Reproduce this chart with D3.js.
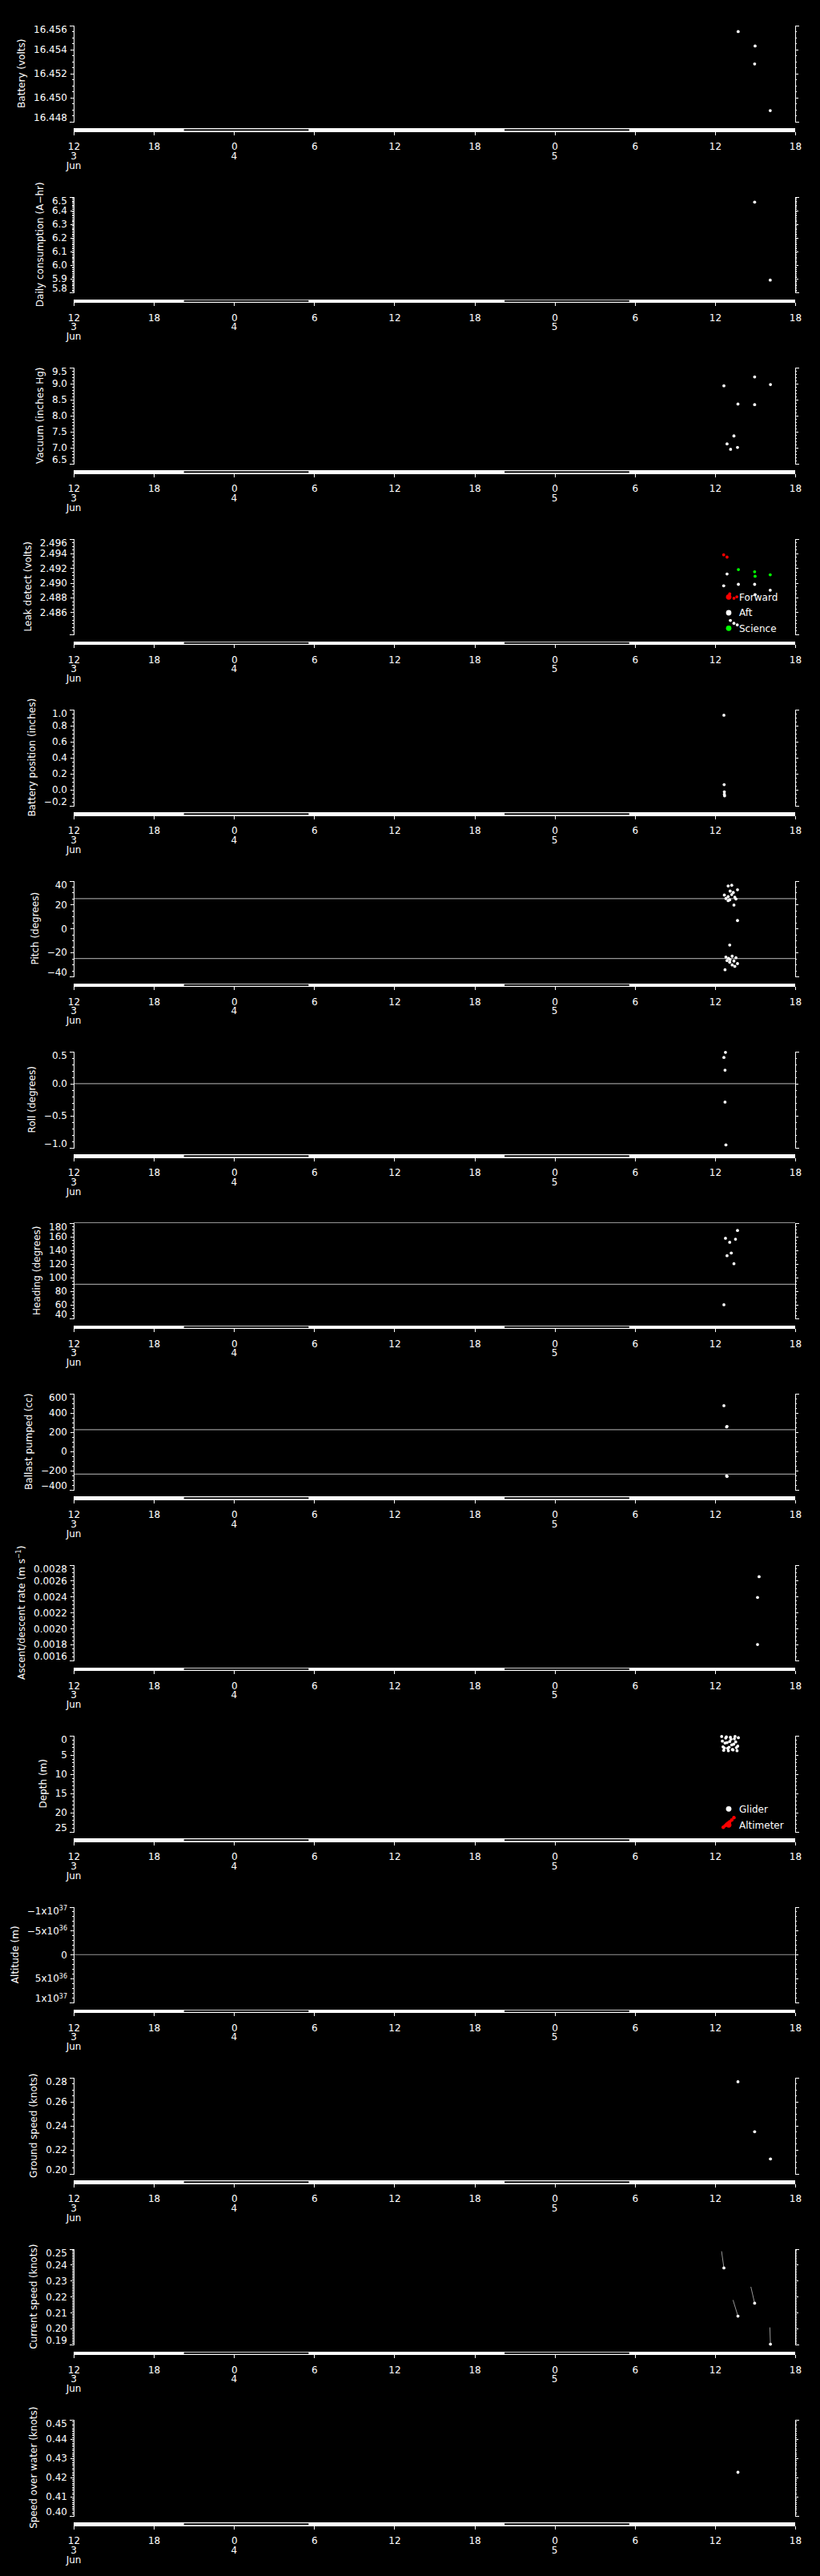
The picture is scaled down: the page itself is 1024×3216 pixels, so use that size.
<!DOCTYPE html>
<html><head><meta charset="utf-8">
<script src="https://cdn.jsdelivr.net/npm/d3@7"></script>
<style>
html,body{margin:0;padding:0;background:#000;}
svg{display:block;background:#000;}
text{font-family:"DejaVu Sans",sans-serif;fill:#fff;}
</style></head><body>
<svg id="c" width="1024" height="3216"></svg>
<script>
// ================= DATA =================
const timeDomain = ["06-03 12:00", "06-05 18:00"];
const nightStart = ["06-03 20:15", "06-04 20:15"];
const nightEnd   = ["06-04 05:35", "06-05 05:35"];

const batteryTimes = ["06-05 13:44","06-05 15:00","06-05 14:58","06-05 16:08"];
const batteryVolts = [16.4555,16.4543,16.4528,16.4489];
const batteryTicks = [16.448,16.450,16.452,16.454,16.456];

const consumptionTimes = ["06-05 14:58","06-05 16:08"];
const consumptionAh = [6.46,5.89];
const consumptionTicks = [5.8,5.9,6.0,6.1,6.2,6.3,6.4,6.5];

const vacuumTimes = ["06-05 12:40","06-05 13:43","06-05 14:58","06-05 14:58","06-05 16:09","06-05 13:25","06-05 12:54","06-05 13:10","06-05 13:41"];
const vacuumInHg = [8.93,8.36,9.21,8.34,8.97,7.36,7.11,6.94,7.00];
const vacuumTicks = [6.5,7.0,7.5,8.0,8.5,9.0,9.5];

const leakForwardTimes = ["06-05 12:39","06-05 12:54","06-05 13:06","06-05 13:25","06-05 13:38"];
const leakForward = [2.4938,2.4935,2.4885,2.4879,2.4881];
const leakAftTimes = ["06-05 12:54","06-05 12:39","06-05 13:45","06-05 14:58","06-05 16:08","06-05 15:00","06-05 13:09","06-05 13:25","06-05 13:40"];
const leakAft = [2.4912,2.4896,2.4898,2.4898,2.4890,2.4884,2.4849,2.4845,2.4843];
const leakScienceTimes = ["06-05 13:45","06-05 14:58","06-05 15:00","06-05 16:08"];
const leakScience = [2.4918,2.4915,2.4909,2.4911];
const leakTicks = [2.486,2.488,2.490,2.492,2.494,2.496];
const leakLegend = ["Forward","Aft","Science"];

const battPosTimes = ["06-05 12:40","06-05 12:41","06-05 12:42","06-05 12:42","06-05 12:43"];
const battPosInches = [0.93,0.06,-0.03,-0.06,-0.08];
const battPosTicks = [-0.2,0.0,0.2,0.4,0.6,0.8,1.0];

const pitchTimes = ["06-05 12:59","06-05 13:15","06-05 13:41","06-05 13:08","06-05 13:22","06-05 12:42","06-05 12:59","06-05 13:15","06-05 13:29","06-05 12:49","06-05 13:06","06-05 13:34","06-05 12:59","06-05 13:25","06-05 13:41","06-05 13:06","06-05 12:49","06-05 13:01","06-05 13:17","06-05 13:34","06-05 12:54","06-05 13:08","06-05 13:25","06-05 13:41","06-05 13:06","06-05 13:17","06-05 13:29","06-05 12:45"];
const pitchDeg = [35.6,36.2,32.4,31.3,30.2,28.0,26.7,28.4,26.2,25.1,24.0,24.7,23.3,19.6,6.7,-13.8,-23.8,-24.9,-23.1,-24.4,-26.7,-26.0,-27.1,-29.3,-28.2,-30.4,-31.6,-34.4];
const pitchTicks = [-40,-20,0,20,40];
const pitchRefs = [25,-25];

const rollTimes = ["06-05 12:47","06-05 12:40","06-05 12:45","06-05 12:45","06-05 12:49"];
const rollDeg = [0.49,0.41,0.21,-0.29,-0.96];
const rollTicks = [-1.0,-0.5,0.0,0.5];
const rollRefs = [0];

const headingTimes = ["06-05 12:40","06-05 12:47","06-05 13:06","06-05 12:54","06-05 13:13","06-05 13:25","06-05 13:32","06-05 13:41"];
const headingDeg = [60,157.2,151.4,131.8,135.7,120.1,155.9,168.7];
const headingTicks = [40,60,80,100,120,140,160,180];
const headingRefs = [180,90];

const ballastTimes = ["06-05 12:40","06-05 12:52","06-05 12:54","06-05 12:52","06-05 12:54"];
const ballastCc = [475,253,258,-258,-264];
const ballastTicks = [-400,-200,0,200,400,600];
const ballastRefs = [225,-240];

const ascentTimes = ["06-05 15:18","06-05 15:11","06-05 15:11"];
const ascentRate = [0.00265,0.00239,0.00180];
const ascentTicks = [0.0016,0.0018,0.0020,0.0022,0.0024,0.0026,0.0028];

const depthGliderTimes = ["06-05 12:30","06-05 12:33","06-05 12:36","06-05 12:39","06-05 12:42","06-05 12:45","06-05 12:48","06-05 12:51","06-05 12:54","06-05 12:57","06-05 13:00","06-05 13:03","06-05 13:06","06-05 13:09","06-05 13:12","06-05 13:15","06-05 13:18","06-05 13:21","06-05 13:24","06-05 13:27","06-05 13:30","06-05 13:33","06-05 13:36","06-05 13:39","06-05 13:42","06-05 13:45"];
const depthGlider = [0.2,1.4,2.9,3.8,3.2,1.9,0.6,0.3,1.8,3.3,3.9,3.0,1.5,0.4,0.9,2.4,3.6,3.7,2.2,0.8,0.2,1.6,3.1,3.9,2.7,0.5];
const depthAltTimes = ["06-05 12:37","06-05 12:45","06-05 12:52","06-05 12:59","06-05 13:06","06-05 13:15","06-05 13:25"];
const depthAltimeter = [23.9,23.5,23.1,22.8,22.5,22.0,21.4];
const depthTicks = [0,5,10,15,20,25];
const depthLegend = ["Glider","Altimeter"];

const altitudeTimes = [];
const altitudeM = [];
const altitudeTicks = [-1e37,-5e36,0,5e36,1e37];
const altitudeRefs = [0];

const groundTimes = ["06-05 13:43","06-05 14:58","06-05 16:09"];
const groundKnots = [0.2767,0.2349,0.2122];
const groundTicks = [0.20,0.22,0.24,0.26,0.28];

const currentTimes = ["06-05 12:40","06-05 13:43","06-05 14:58","06-05 16:09"];
const currentKnots = [0.238,0.2078,0.2159,0.1902];
const currentDirDeg = [352,343,347,358];
const currentTicks = [0.19,0.20,0.21,0.22,0.23,0.24,0.25];

const sowTimes = ["06-05 13:43"];
const sowKnots = [0.4226];
const sowTicks = [0.40,0.41,0.42,0.43,0.44,0.45];

// ================= CHART =================
const parse = d3.timeParse("%m-%d %H:%M");
const X0 = 92, X1 = 993, TOP = 32, BOT = 151.5, PITCH = 213.5;
const RED = "#ff0000", GREEN = "#00ff00", WHITE = "#ffffff", GRAY = "#969696";

const x = d3.scaleTime().domain(timeDomain.map(parse)).range([X0, X1]);

const sup = (v) => {
  if (v === 0) return ["0", null];
  const e = Math.floor(Math.log10(Math.abs(v)) + 1e-9);
  const m = Math.round(v / Math.pow(10, e));
  return [(m < 0 ? "\u2212" : "") + Math.abs(m) + "x10", String(e)];
};

const panels = [
  {title:["Battery (volts)"], ticks:batteryTicks, minor:0.0005, fmt:d3.format(".3f"),
   series:[{t:batteryTimes, v:batteryVolts, c:WHITE}]},
  {title:["Daily consumption (A\u2212hr)"], ticks:consumptionTicks, minor:0.01, fmt:d3.format(".1f"),
   series:[{t:consumptionTimes, v:consumptionAh, c:WHITE}]},
  {title:["Vacuum (inches Hg)"], ticks:vacuumTicks, minor:0.1, fmt:d3.format(".1f"),
   series:[{t:vacuumTimes, v:vacuumInHg, c:WHITE}]},
  {title:["Leak detect (volts)"], ticks:leakTicks, domain:[2.483,2.496], minor:0.0005, fmt:d3.format(".3f"),
   series:[{t:leakAftTimes, v:leakAft, c:WHITE},{t:leakScienceTimes, v:leakScience, c:GREEN},{t:leakForwardTimes, v:leakForward, c:RED}],
   legend:{names:leakLegend, colors:[RED,WHITE,GREEN], x:910, y:[104.8,124.5,143.8]}},
  {title:["Battery position (inches)"], ticks:battPosTicks, minor:0.05, fmt:d3.format(".1f"),
   series:[{t:battPosTimes, v:battPosInches, c:WHITE}]},
  {title:["Pitch (degrees)"], ticks:pitchTicks, minor:5, fmt:d3.format("d"), refs:pitchRefs,
   series:[{t:pitchTimes, v:pitchDeg, c:WHITE}]},
  {title:["Roll (degrees)"], ticks:rollTicks, minor:0.1, fmt:d3.format(".1f"), refs:rollRefs,
   series:[{t:rollTimes, v:rollDeg, c:WHITE}]},
  {title:["Heading (degrees)"], ticks:headingTicks, minor:5, fmt:d3.format("d"), refs:headingRefs,
   series:[{t:headingTimes, v:headingDeg, c:WHITE}]},
  {title:["Ballast pumped (cc)"], ticks:ballastTicks, minor:50, fmt:d3.format("d"), refs:ballastRefs,
   series:[{t:ballastTimes, v:ballastCc, c:WHITE}]},
  {title:["Ascent/descent rate (m s", "\u22121", ")"], ticks:ascentTicks, minor:0.00005, fmt:d3.format(".4f"),
   series:[{t:ascentTimes, v:ascentRate, c:WHITE}]},
  {title:["Depth (m)"], ticks:depthTicks, minor:1, fmt:d3.format("d"), reversed:true,
   series:[{t:depthGliderTimes, v:depthGlider, c:WHITE},{t:depthAltTimes, v:depthAltimeter, c:RED, r:2.2}],
   legend:{names:depthLegend, colors:[WHITE,RED], x:910, y:[123.3,143.3]}},
  {title:["Altitude (m)"], ticks:altitudeTicks, minor:1e36, supFmt:sup, reversed:true, refs:altitudeRefs,
   series:[{t:altitudeTimes, v:altitudeM, c:WHITE}]},
  {title:["Ground speed (knots)"], ticks:groundTicks, minor:0.005, fmt:d3.format(".2f"),
   series:[{t:groundTimes, v:groundKnots, c:WHITE}]},
  {title:["Current speed (knots)"], ticks:currentTicks, minor:0.001, fmt:d3.format(".2f"),
   series:[{t:currentTimes, v:currentKnots, c:WHITE}], sticks:{t:currentTimes, v:currentKnots, dir:currentDirDeg}},
  {title:["Speed over water (knots)"], ticks:sowTicks, minor:0.001, fmt:d3.format(".2f"),
   series:[{t:sowTimes, v:sowKnots, c:WHITE}]}
];

const svg = d3.select("#c");
svg.append("rect").attr("width",1024).attr("height",3216).attr("fill","#000");

function styleAxis(sel){
  sel.attr("color", WHITE).attr("font-family", null).attr("font-size", null);
  sel.selectAll("path,line").attr("shape-rendering","crispEdges");
}

panels.forEach((p, i) => {
  const g = svg.append("g").attr("transform", `translate(0,${i * PITCH})`);
  const dom = p.domain || d3.extent(p.ticks);
  const y = d3.scaleLinear().domain(dom).range(p.reversed ? [TOP, BOT] : [BOT, TOP]);
  const lo = Math.min(...dom), hi = Math.max(...dom);
  const minors = d3.range(Math.ceil(lo / p.minor - 1e-6), Math.floor(hi / p.minor + 1e-6) + 1).map(k => k * p.minor);

  // reference lines
  (p.refs || []).forEach(r => {
    g.append("line").attr("x1", X0).attr("x2", X1).attr("y1", y(r)).attr("y2", y(r))
      .attr("stroke", GRAY).attr("stroke-width", 1.2);
  });

  // left axis minor + major
  g.append("g").attr("transform", `translate(${X0},0)`)
    .call(d3.axisLeft(y).tickValues(minors).tickSize(2).tickSizeOuter(0).tickFormat(""))
    .call(styleAxis).call(s => s.select(".domain").remove());
  const gl = g.append("g").attr("transform", `translate(${X0},0)`)
    .call(d3.axisLeft(y).tickValues(p.ticks).tickSize(4).tickSizeOuter(5).tickPadding(4)
      .tickFormat(p.fmt || (() => "")))
    .call(styleAxis);
  gl.selectAll("text").attr("font-size", 12).each(function(d){
    const t = d3.select(this);
    if (p.supFmt) {
      const [b, s] = p.supFmt(d);
      t.text(b);
      if (s) t.append("tspan").attr("font-size", 8).attr("dy", "-0.55em").text(s);
    }
    const yy = y(d), cy = Math.max(TOP + 5, Math.min(BOT - 5, yy));
    t.attr("y", cy - yy);
  });

  // right axis
  g.append("g").attr("transform", `translate(${X1},0)`)
    .call(d3.axisRight(y).tickValues(minors).tickSize(2).tickSizeOuter(0).tickFormat(""))
    .call(styleAxis).call(s => s.select(".domain").remove());
  g.append("g").attr("transform", `translate(${X1},0)`)
    .call(d3.axisRight(y).tickValues(p.ticks).tickSize(4).tickSizeOuter(5).tickFormat(""))
    .call(styleAxis);

  // title
  let minX = Infinity;
  gl.selectAll("text").each(function(){ const b = this.getBBox(); minX = Math.min(minX, b.x); });
  const tx = X0 + minX - 15;
  const tt = g.append("text").attr("transform", `translate(${tx},${(TOP + BOT) / 2}) rotate(-90)`)
    .attr("text-anchor", "middle").attr("dy", "0.35em").attr("font-size", 12);
  tt.append("tspan").text(p.title[0]);
  if (p.title.length > 1) {
    tt.append("tspan").attr("font-size", 8).attr("dy", "-0.6em").text(p.title[1]);
    tt.append("tspan").attr("font-size", 12).attr("dy", "0.4em").text(p.title[2]);
  }

  // x axis bar with night shading
  g.append("rect").attr("x", X0).attr("y", 160).attr("width", X1 - X0).attr("height", 4.5)
    .attr("fill", WHITE).attr("shape-rendering","crispEdges");
  nightStart.forEach((s, k) => {
    const a = x(parse(s)), b = x(parse(nightEnd[k]));
    g.append("rect").attr("x", a).attr("y", 161.3).attr("width", b - a).attr("height", 2)
      .attr("fill", "#000");
  });
  const ticks = x.ticks(d3.timeHour.every(6));
  const gb = g.append("g").attr("transform", "translate(0,164.5)")
    .call(d3.axisBottom(x).tickValues(ticks).tickFormat(d3.timeFormat("%-H")).tickSize(4).tickPadding(10))
    .call(styleAxis).call(s => s.select(".domain").remove());
  gb.selectAll("text").attr("font-size", 12);
  ticks.forEach((d, k) => {
    if (k === 0 || d.getHours() === 0) {
      g.append("text").attr("x", x(d)).attr("y", 198.5).attr("text-anchor", "middle")
        .attr("font-size", 12).text(d.getDate());
    }
    if (k === 0) {
      g.append("text").attr("x", x(d)).attr("y", 210.5).attr("text-anchor", "middle")
        .attr("font-size", 12).text(d3.timeFormat("%b")(d));
    }
  });

  // sticks (current direction)
  if (p.sticks) {
    const L = 21;
    p.sticks.t.forEach((t, k) => {
      const px = x(parse(t)), py = y(p.sticks.v[k]), a = p.sticks.dir[k] * Math.PI / 180;
      g.append("line").attr("x1", px).attr("y1", py)
        .attr("x2", px + L * Math.sin(a)).attr("y2", py - L * Math.cos(a))
        .attr("stroke", GRAY).attr("stroke-width", 1);
    });
  }

  // points
  p.series.forEach(s => {
    g.append("g").selectAll("circle").data(s.t.map((t, k) => [parse(t), s.v[k]])).join("circle")
      .attr("cx", d => x(d[0])).attr("cy", d => y(d[1])).attr("r", s.r || 1.9).attr("fill", s.c);
  });

  // legend
  if (p.legend) {
    p.legend.names.forEach((n, k) => {
      const ly = p.legend.y[k];
      g.append("circle").attr("cx", p.legend.x).attr("cy", ly).attr("r", 3.4).attr("fill", p.legend.colors[k]);
      g.append("text").attr("x", p.legend.x + 13).attr("y", ly).attr("dy", "0.35em")
        .attr("font-size", 12).text(n);
    });
  }
});
</script>
</body></html>
